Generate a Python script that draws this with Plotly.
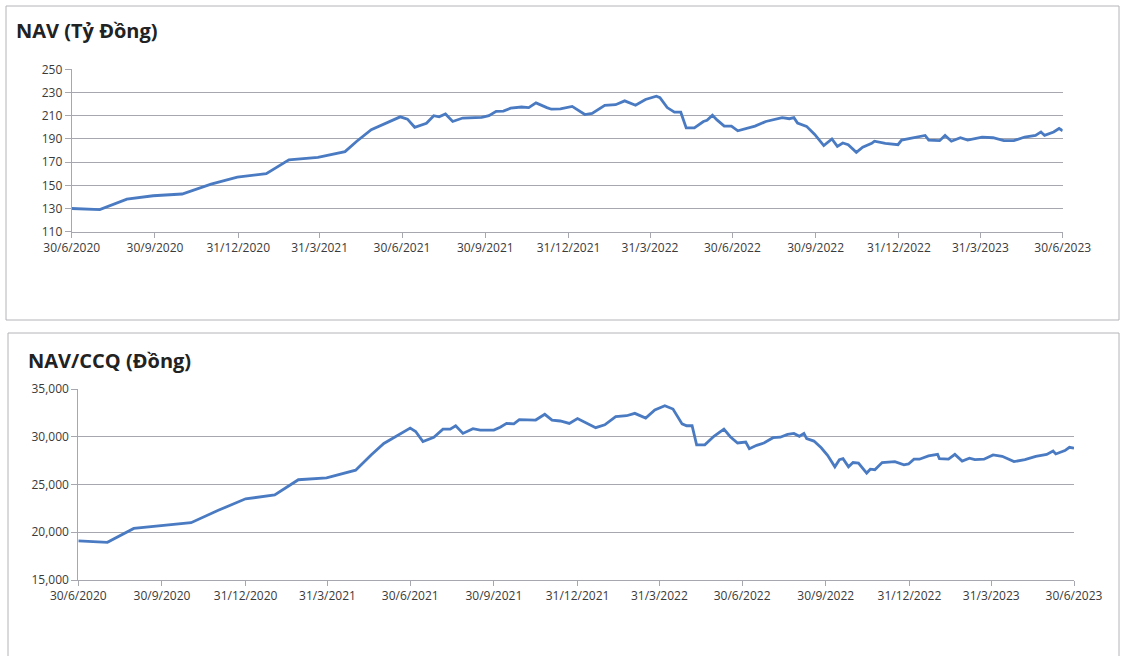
import plotly.graph_objects as go

W, H = 1121, 656

# ---------- data ----------
nav_dates = [
    "2020-06-30", "2020-07-31", "2020-08-30", "2020-09-28", "2020-10-30", "2020-12-01",
    "2020-12-30", "2021-01-31", "2021-02-25", "2021-03-29", "2021-04-28", "2021-05-11",
    "2021-05-27", "2021-06-28", "2021-07-06", "2021-07-14", "2021-07-27", "2021-08-04",
    "2021-08-10", "2021-08-17", "2021-08-25", "2021-09-05", "2021-09-26", "2021-10-04",
    "2021-10-12", "2021-10-20", "2021-10-28", "2021-11-09", "2021-11-17", "2021-11-25",
    "2021-12-07", "2021-12-12", "2021-12-22", "2022-01-04", "2022-01-18", "2022-01-26",
    "2022-02-09", "2022-02-21", "2022-03-03", "2022-03-15", "2022-03-26", "2022-04-07",
    "2022-04-11", "2022-04-19", "2022-04-27", "2022-05-04", "2022-05-10", "2022-05-19",
    "2022-05-29", "2022-06-02", "2022-06-08", "2022-06-13", "2022-06-21", "2022-06-29",
    "2022-07-06", "2022-07-15", "2022-07-25", "2022-08-06", "2022-08-16", "2022-08-24",
    "2022-09-01", "2022-09-06", "2022-09-10", "2022-09-20", "2022-09-29", "2022-10-09",
    "2022-10-18", "2022-10-24", "2022-10-30", "2022-11-05", "2022-11-14", "2022-11-21",
    "2022-12-01", "2022-12-04", "2022-12-16", "2022-12-30", "2023-01-03", "2023-01-15",
    "2023-01-29", "2023-02-02", "2023-02-14", "2023-02-20", "2023-02-27", "2023-03-09",
    "2023-03-17", "2023-04-02", "2023-04-14", "2023-04-26", "2023-05-07", "2023-05-19",
    "2023-05-31", "2023-06-06", "2023-06-10", "2023-06-20", "2023-06-26", "2023-06-30",
]
nav_values = [
    130, 129, 138, 141, 142.5, 151,
    157, 160, 172, 174, 179, 188,
    198, 209, 207, 200, 203.5, 210,
    209, 211.5, 205, 208, 208.5, 210,
    213.8, 214, 216.5, 217.5, 217, 221,
    217, 215.6, 215.8, 218, 211, 212,
    219, 219.5, 222.8, 219, 224, 226.8,
    225.6, 217, 213, 213, 199.5, 199.5,
    205, 206, 210.4, 206.4, 201, 201,
    197, 199, 201, 205, 206.6, 208.3,
    207.4, 208.3, 203.6, 200.8, 193.8, 184.2,
    190, 183.6, 186.5, 185, 178.4, 182.8,
    186.2, 188, 186.2, 185, 189, 191,
    193, 189, 188.5, 193, 188, 191,
    189, 191.6, 191, 188.5, 188.5, 191.6,
    193, 196, 193, 196, 199, 197,
]

ccq_dates = [
    "2020-06-30", "2020-08-01", "2020-08-30", "2020-09-30", "2020-11-01", "2020-12-01",
    "2020-12-31", "2021-02-01", "2021-02-27", "2021-03-30", "2021-05-01", "2021-05-18",
    "2021-06-01", "2021-06-30", "2021-07-06", "2021-07-14", "2021-07-26", "2021-08-05",
    "2021-08-13", "2021-08-19", "2021-08-27", "2021-09-07", "2021-09-15", "2021-09-30",
    "2021-10-07", "2021-10-14", "2021-10-22", "2021-10-28", "2021-11-15", "2021-11-25",
    "2021-12-03", "2021-12-12", "2021-12-22", "2021-12-31", "2022-01-10", "2022-01-20",
    "2022-01-30", "2022-02-11", "2022-02-23", "2022-03-04", "2022-03-16", "2022-03-26",
    "2022-04-06", "2022-04-15", "2022-04-25", "2022-04-30", "2022-05-06", "2022-05-11",
    "2022-05-20", "2022-05-30", "2022-06-10", "2022-06-17", "2022-06-25", "2022-07-04",
    "2022-07-08", "2022-07-16", "2022-07-24", "2022-08-03", "2022-08-11", "2022-08-19",
    "2022-08-26", "2022-09-01", "2022-09-06", "2022-09-09", "2022-09-17", "2022-09-25",
    "2022-10-02", "2022-10-10", "2022-10-15", "2022-10-19", "2022-10-25", "2022-10-30",
    "2022-11-05", "2022-11-14", "2022-11-18", "2022-11-23", "2022-12-01", "2022-12-15",
    "2022-12-25", "2022-12-30", "2023-01-05", "2023-01-11", "2023-01-21", "2023-01-31",
    "2023-02-02", "2023-02-12", "2023-02-19", "2023-02-27", "2023-03-07", "2023-03-13",
    "2023-03-23", "2023-04-02", "2023-04-12", "2023-04-25", "2023-05-07", "2023-05-19",
    "2023-05-31", "2023-06-07", "2023-06-10", "2023-06-20", "2023-06-25", "2023-06-30",
]
ccq_values = [
    19100, 18950, 20400, 20700, 21000, 22300,
    23500, 23900, 25500, 25700, 26500, 28100,
    29300, 30900, 30550, 29500, 29950, 30800,
    30800, 31150, 30350, 30850, 30700, 30700,
    31000, 31400, 31350, 31800, 31750, 32350,
    31750, 31650, 31400, 31900, 31400, 30950,
    31250, 32100, 32200, 32450, 31950, 32800,
    33250, 32900, 31350, 31150, 31150, 29150,
    29150, 30050, 30800, 30000, 29350, 29450,
    28750, 29100, 29350, 29900, 29950, 30250,
    30350, 30050, 30350, 29800, 29550, 28850,
    28050, 26850, 27600, 27700, 26850, 27300,
    27250, 26200, 26600, 26550, 27300, 27400,
    27050, 27150, 27650, 27650, 28000, 28150,
    27700, 27650, 28150, 27450, 27750, 27600,
    27650, 28100, 27950, 27400, 27600, 27950,
    28150, 28500, 28200, 28550, 28900, 28800,
]

tick_dates = [
    "2020-06-30", "2020-09-30", "2020-12-31", "2021-03-31", "2021-06-30", "2021-09-30",
    "2021-12-31", "2022-03-31", "2022-06-30", "2022-09-30", "2022-12-31", "2023-03-31",
    "2023-06-30",
]
tick_labels = [
    "30/6/2020", "30/9/2020", "31/12/2020", "31/3/2021", "30/6/2021", "30/9/2021",
    "31/12/2021", "31/3/2022", "30/6/2022", "30/9/2022", "31/12/2022", "31/3/2023",
    "30/6/2023",
]

title_nav = "NAV (Tỷ Đồng)"
title_ccq = "NAV/CCQ (Đồng)"

# ---------- style ----------
LINE = "#4a7bc2"
GRID = "#a7a7b0"
TXT = "#3a3a3a"
FONT = "Open Sans"


def px_x(p):
    return p / W


def px_y(p):
    return 1 - p / H


fig = go.Figure()
fig.add_trace(go.Scatter(x=nav_dates, y=nav_values, mode="lines",
                         line=dict(color=LINE, width=2.8), xaxis="x", yaxis="y",
                         showlegend=False, hoverinfo="x+y"))
fig.add_trace(go.Scatter(x=ccq_dates, y=ccq_values, mode="lines",
                         line=dict(color=LINE, width=2.8), xaxis="x2", yaxis="y2",
                         showlegend=False, hoverinfo="x+y"))

xcommon = dict(type="date", range=[tick_dates[0], tick_dates[-1]],
               tickmode="array", tickvals=tick_dates, ticktext=tick_labels,
               showgrid=False, showline=True, linecolor=GRID, linewidth=1,
               ticks="outside", ticklen=5, tickcolor=GRID, tickwidth=1,
               tickfont=dict(family=FONT, size=12, color=TXT), zeroline=False,
               fixedrange=True, automargin=False)
ycommon = dict(showgrid=True, gridcolor=GRID, gridwidth=1, showline=True,
               linecolor=GRID, linewidth=1, ticks="outside", ticklen=6,
               tickcolor=GRID, tickwidth=1, zeroline=False,
               tickfont=dict(family=FONT, size=12, color=TXT), fixedrange=True,
               automargin=False)

fig.update_layout(
    template="none",
    width=W, height=H,
    autosize=False,
    margin=dict(l=0, r=0, t=0, b=0, pad=0),
    paper_bgcolor="white", plot_bgcolor="white",
    showlegend=False,
    xaxis=dict(domain=[px_x(71.7), px_x(1062.7)], anchor="y", **xcommon),
    yaxis=dict(domain=[px_y(231.7), px_y(69.3)], anchor="x",
               range=[110, 250], tickmode="linear", tick0=110, dtick=20, **ycommon),
    xaxis2=dict(domain=[px_x(78.3), px_x(1074)], anchor="y2", **xcommon),
    yaxis2=dict(domain=[px_y(580), px_y(389)], anchor="x2",
                range=[15000, 35000], tickmode="linear", tick0=15000, dtick=5000,
                tickformat=",d", **ycommon),
    shapes=[
        dict(type="rect", xref="paper", yref="paper",
             x0=px_x(6), x1=px_x(1119), y0=px_y(320), y1=px_y(6),
             line=dict(color="#b4b4b8", width=1), fillcolor="rgba(0,0,0,0)", layer="below"),
        dict(type="rect", xref="paper", yref="paper",
             x0=px_x(8), x1=px_x(1119), y0=px_y(665), y1=px_y(333),
             line=dict(color="#b4b4b8", width=1), fillcolor="rgba(0,0,0,0)", layer="below"),
    ],
    annotations=[
        dict(text=f"<b>{title_nav}</b>", xref="paper", yref="paper",
             x=px_x(14), y=px_y(30), xanchor="left", yanchor="middle", showarrow=False,
             font=dict(family=FONT, size=20, color="#222222")),
        dict(text=f"<b>{title_ccq}</b>", xref="paper", yref="paper",
             x=px_x(26), y=px_y(360), xanchor="left", yanchor="middle", showarrow=False,
             font=dict(family=FONT, size=20, color="#222222")),
    ],
)

fig.write_html("out.html")
